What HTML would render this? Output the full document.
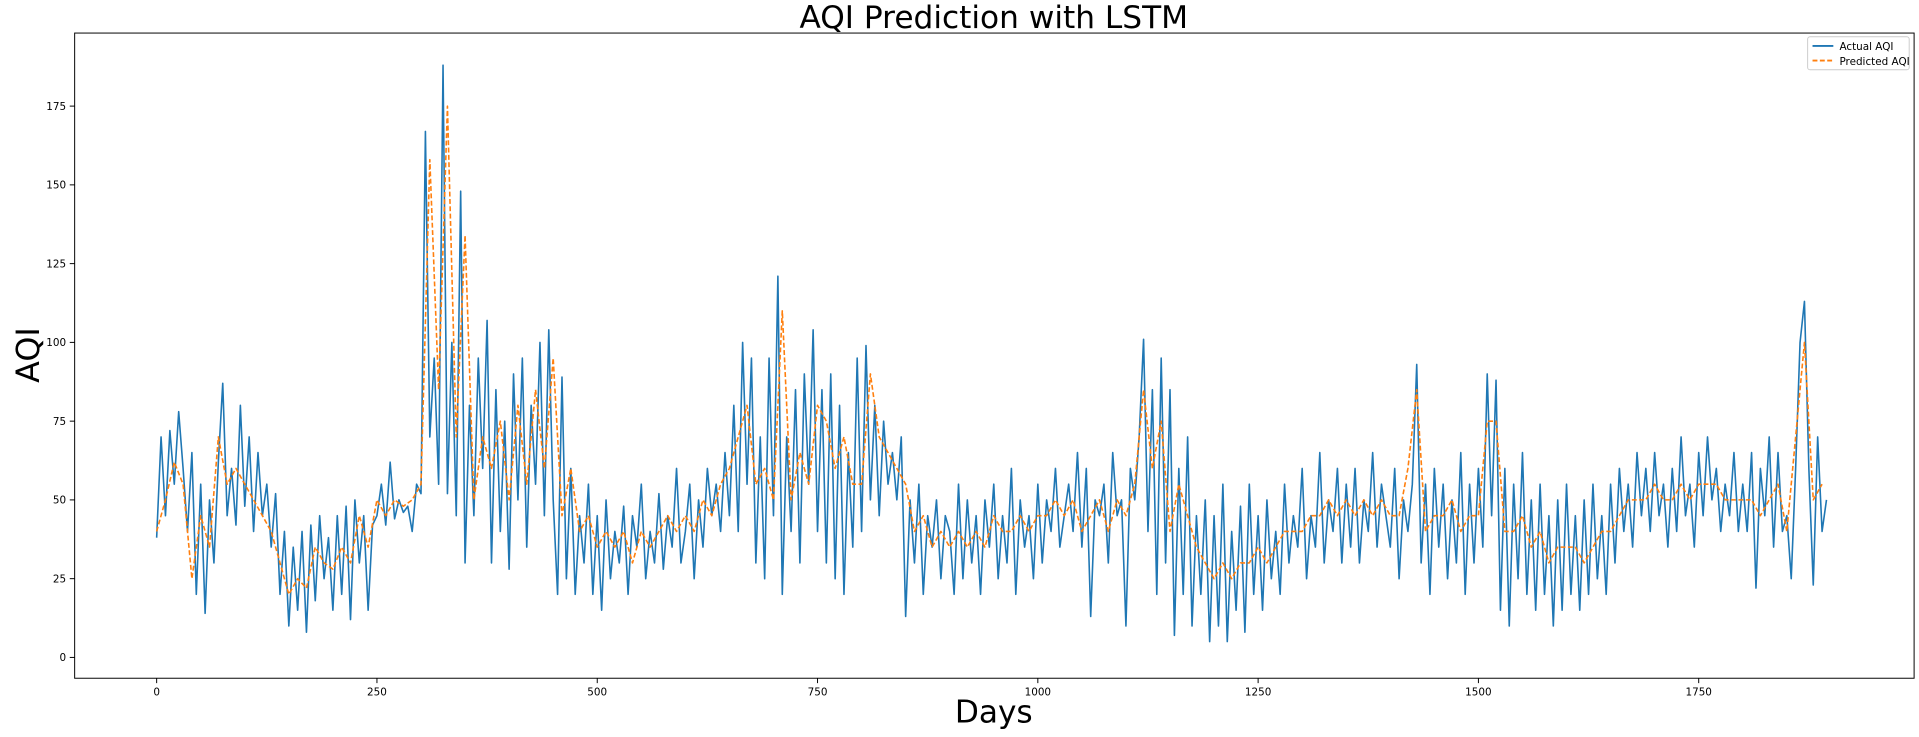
<!DOCTYPE html>
<html><head><meta charset="utf-8"><style>
html,body{margin:0;padding:0;background:#fff;overflow:hidden;}
svg{display:block;font-family:"DejaVu Sans","Liberation Sans",sans-serif;}
</style></head><body>
<svg id="chart" width="1919" height="737" viewBox="0 0 1568 602" preserveAspectRatio="none" xmlns="http://www.w3.org/2000/svg">
<rect x="0" y="0" width="1568" height="602" fill="#fff"/>
<text x="812" y="23" text-anchor="middle" font-size="25.5">AQI Prediction with LSTM</text>
<text x="812" y="590" text-anchor="middle" font-size="25.5">Days</text>
<text x="0" y="0" transform="translate(32,290) rotate(-90)" text-anchor="middle" font-size="26">AQI</text>
<g id="plot"></g>
<rect x="61" y="27" width="1503" height="527" fill="none" stroke="#000" stroke-width="0.8"/>
<g>
<rect x="1477" y="30" width="83" height="27" fill="#fff" stroke="#ccc" stroke-width="0.8" rx="2"/>
<line x1="1481" y1="37.5" x2="1498" y2="37.5" stroke="#1f77b4" stroke-width="1.5"/>
<text x="1503" y="41" font-size="8.5">Actual AQI</text>
<line x1="1481" y1="49.5" x2="1498" y2="49.5" stroke="#ff7f0e" stroke-width="1.5" stroke-dasharray="4,2"/>
<text x="1503" y="53" font-size="8.5">Predicted AQI</text>
</g>
</svg>
<script>
const actualStep = 5;
const actual = [
38,70,45,72,55,78,60,40,65,20,
55,14,50,30,62,87,45,60,42,80,
48,70,40,65,45,55,35,52,20,40,
10,35,15,40,8,42,18,45,25,38,
15,45,20,48,12,50,30,45,15,42,
45,55,42,62,44,50,46,48,40,55,
52,167,70,95,55,188,52,100,45,148,
30,80,45,95,60,107,30,85,40,75,
28,90,50,95,35,80,55,100,45,104,
50,20,89,25,60,20,45,30,55,20,
45,15,50,25,40,30,48,20,45,35,
55,25,40,30,52,28,45,35,60,30,
40,55,25,50,35,60,45,55,40,65,
45,80,40,100,55,95,30,70,25,95,
45,121,20,70,40,85,30,90,55,104,
40,85,30,90,25,80,20,65,35,95,
40,99,50,80,45,75,55,65,50,70,
13,50,30,55,20,45,35,50,25,45,
40,20,55,25,50,30,45,20,50,35,
55,25,45,30,60,20,50,35,45,25,
55,30,50,40,60,35,45,55,40,65,
35,60,13,50,45,55,30,65,45,50,
10,60,50,70,101,40,85,20,95,30,
85,7,60,20,70,10,45,20,50,5,
45,10,55,5,40,15,48,8,55,20,
45,15,50,25,40,20,55,30,45,35,
60,25,45,35,65,30,50,40,60,30,
55,35,60,30,50,40,65,35,55,45,
35,60,25,50,40,55,93,30,55,20,
60,35,55,25,50,30,65,20,55,30,
60,35,90,45,88,15,60,10,55,25,
65,20,50,15,55,20,45,10,50,15,
55,20,45,15,50,20,55,25,45,20,
55,30,60,40,55,35,65,45,60,40,
65,45,55,35,60,40,70,45,55,35,
65,45,70,50,60,40,55,45,65,40,
55,40,65,22,60,45,70,35,65,40,
45,25,60,100,113,60,23,70,40,50
];
const predictedStep = 10;
const predicted = [
40,50,62,55,25,45,35,70,55,60,
55,50,45,40,30,20,25,22,35,30,
28,35,30,45,35,50,45,50,48,50,
55,158,85,175,70,134,50,70,60,75,
50,80,55,85,60,95,45,60,40,45,
35,40,35,40,30,40,35,40,45,40,
45,40,50,45,55,60,70,80,55,60,
50,110,50,65,55,80,75,60,70,55,
55,90,70,65,60,55,40,45,35,40,
35,40,35,40,35,45,40,40,45,40,
45,45,50,45,50,40,45,50,40,50,
45,55,85,60,75,40,55,45,35,30,
25,30,25,30,30,35,30,35,40,40,
40,45,45,50,45,50,45,50,45,50,
45,45,60,85,40,45,45,50,40,45,
45,75,75,40,40,45,35,40,30,35,
35,35,30,35,40,40,45,50,50,50,
55,50,50,55,50,55,55,55,50,50,
50,50,45,50,55,40,70,100,50,55
];
const xTickLabels = ["0","250","500","750","1000","1250","1500","1750"];
const yTickLabels = ["0","25","50","75","100","125","150","175"];

const NS = "http://www.w3.org/2000/svg";
const plot = document.getElementById('plot');
function xScale(d){ return 128 + d * 0.72; }
function yScale(v){ return 537 - v * 2.5733; }

function mk(tag, attrs){
  const e = document.createElementNS(NS, tag);
  for (const k in attrs) e.setAttribute(k, attrs[k]);
  return e;
}

xTickLabels.forEach(function(t){
  const x = xScale(parseFloat(t));
  const tk = mk('line', {x1:x, y1:554, x2:x, y2:558, stroke:'#000', 'stroke-width':0.8});
  
  
  plot.appendChild(tk);
  const lb = mk('text', {x:x, y:568, 'text-anchor':'middle', 'font-size':8.5});
  
  
  lb.textContent = t;
  plot.appendChild(lb);
});
yTickLabels.forEach(function(t){
  const y = yScale(parseFloat(t));
  const tk = mk('line', {x1:57, y1:y, x2:61, y2:y, stroke:'#000', 'stroke-width':0.8});
  
  
  plot.appendChild(tk);
  const lb = mk('text', {x:54, y:y + 3, 'text-anchor':'end', 'font-size':8.5});
  
  
  lb.textContent = t;
  plot.appendChild(lb);
});

function pathFor(arr, step){
  return arr.map(function(v, i){ return (i ? 'L' : 'M') + xScale(i * step).toFixed(1) + ' ' + yScale(v).toFixed(1); }).join(' ');
}
const la = mk('path', {d:pathFor(actual, actualStep), fill:'none', stroke:'#1f77b4', 'stroke-width':1.3, 'stroke-linejoin':'round'});


plot.appendChild(la);
const lp = mk('path', {d:pathFor(predicted, predictedStep), fill:'none', stroke:'#ff7f0e', 'stroke-width':1.3, 'stroke-dasharray':'4,2', 'stroke-linejoin':'round'});


plot.appendChild(lp);
</script>
</body></html>
